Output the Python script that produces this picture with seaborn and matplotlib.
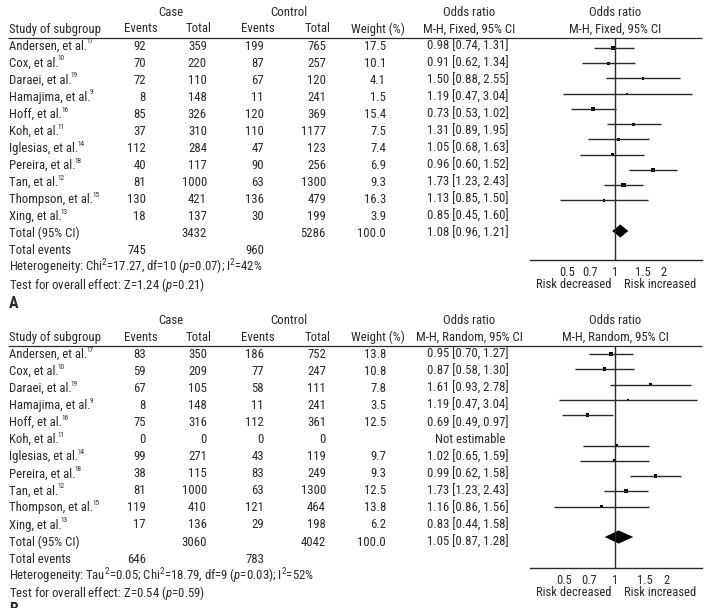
import numpy as np
import pandas as pd
import matplotlib
matplotlib.use("Agg")
from matplotlib import pyplot as plt
from matplotlib.ticker import NullLocator
import seaborn as sns

sns.set_theme(style="white")
plt.rcParams["font.family"] = ["Roboto Condensed", "DejaVu Sans"]
plt.rcParams["mathtext.fontset"] = "custom"
plt.rcParams["mathtext.rm"] = "Roboto Condensed"
plt.rcParams["mathtext.it"] = "Roboto Condensed:italic"
plt.rcParams["mathtext.default"] = "regular"

INK = "#2a2a2a"
FS = 9.2

studies = ["Andersen, et al.", "Cox, et al.", "Daraei, et al.", "Hamajima, et al.",
           "Hoff, et al.", "Koh, et al.", "Iglesias, et al.", "Pereira, et al.",
           "Tan, et al.", "Thompson, et al.", "Xing, et al."]
refs = ["17", "10", "19", "9", "16", "11", "14", "18", "12", "15", "13"]

# panel A - fixed effects
case_ev_a = [92, 70, 72, 8, 85, 37, 112, 40, 81, 130, 18]
case_tot_a = [359, 220, 110, 148, 326, 310, 284, 117, 1000, 421, 137]
ctrl_ev_a = [199, 87, 67, 11, 120, 110, 47, 90, 63, 136, 30]
ctrl_tot_a = [765, 257, 120, 241, 369, 1177, 123, 256, 1300, 479, 199]
weight_a = [17.5, 10.1, 4.1, 1.5, 15.4, 7.5, 7.4, 6.9, 9.3, 16.3, 3.9]
or_a = [0.98, 0.91, 1.50, 1.19, 0.73, 1.31, 1.05, 0.96, 1.73, 1.13, 0.85]
lo_a = [0.74, 0.62, 0.88, 0.47, 0.53, 0.89, 0.68, 0.60, 1.23, 0.85, 0.45]
hi_a = [1.31, 1.34, 2.55, 3.04, 1.02, 1.95, 1.63, 1.52, 2.43, 1.50, 1.60]
total_a = [3432, 5286, 100.0, 1.08, 0.96, 1.21]
events_a = [745, 960]
het_a = "Heterogeneity: Chi$^2$=17.27, df=10 ($\\mathit{p}$=0.07); I$^2$=42%"
test_a = "Test for overall effect: Z=1.24 ($\\mathit{p}$=0.21)"

# panel B - random effects
case_ev_b = [83, 59, 67, 8, 75, 0, 99, 38, 81, 119, 17]
case_tot_b = [350, 209, 105, 148, 316, 0, 271, 115, 1000, 410, 136]
ctrl_ev_b = [186, 77, 58, 11, 112, 0, 43, 83, 63, 121, 29]
ctrl_tot_b = [752, 247, 111, 241, 361, 0, 119, 249, 1300, 464, 198]
weight_b = [13.8, 10.8, 7.8, 3.5, 12.5, np.nan, 9.7, 9.3, 12.5, 13.8, 6.2]
or_b = [0.95, 0.87, 1.61, 1.19, 0.69, np.nan, 1.02, 0.99, 1.73, 1.16, 0.83]
lo_b = [0.70, 0.58, 0.93, 0.47, 0.49, np.nan, 0.65, 0.62, 1.23, 0.86, 0.44]
hi_b = [1.27, 1.30, 2.78, 3.04, 0.97, np.nan, 1.59, 1.58, 2.43, 1.56, 1.58]
total_b = [3060, 4042, 100.0, 1.05, 0.87, 1.28]
events_b = [646, 783]
het_b = "Heterogeneity: Tau$^2$=0.05; Chi$^2$=18.79, df=9 ($\\mathit{p}$=0.03); I$^2$=52%"
test_b = "Test for overall effect: Z=0.54 ($\\mathit{p}$=0.59)"

tick_vals = [0.5, 0.7, 1, 1.5, 2]
tick_labels = ["0.5", "0.7", "1", "1.5", "2"]

W, H = 704, 608
fig = plt.figure(figsize=(W / 100, H / 100), dpi=100)
bg = fig.add_axes([0, 0, 1, 1])
bg.set_xlim(0, W)
bg.set_ylim(H, 0)
bg.axis("off")
renderer = fig.canvas.get_renderer()


def txt(x, y, s, ha="left", size=FS, **kw):
    return bg.text(x, y, s, ha=ha, va="center", fontsize=size, color=INK, **kw)


def draw_panel(off, model, case_ev, case_tot, ctrl_ev, ctrl_tot, weight,
               ors, los, his, total, events, het, test, xlim, row_px, axis_px):
    # header
    txt(171, 12 + off, "Case", "center")
    txt(289, 12 + off, "Control", "center")
    txt(469, 12 + off, "Odds ratio", "center")
    txt(615, 12 + off, "Odds ratio", "center")
    y = 29 + off
    txt(9, y, "Study of subgroup")
    txt(141, y, "Events", "center")
    txt(199, y, "Total", "center")
    txt(258, y, "Events", "center")
    txt(318, y, "Total", "center")
    txt(378, y, "Weight (%)", "center")
    txt(469, y, f"M-H, {model}, 95% CI", "center")
    txt(615, y, f"M-H, {model}, 95% CI", "center")
    bg.hlines(37.5 + off, 8, 702, color=INK, lw=0.9)

    for i, name in enumerate(studies):
        y = 46 + off + 17.05 * i
        t = txt(9, y, name)
        x_end = t.get_window_extent(renderer).x1
        txt(x_end - 1.0, y - 4.2, refs[i], size=5.2)
        txt(146, y, str(case_ev[i]), "right")
        txt(207, y, str(case_tot[i]), "right")
        txt(264, y, str(ctrl_ev[i]), "right")
        txt(326, y, str(ctrl_tot[i]), "right")
        if np.isnan(ors[i]):
            txt(470, y, "Not estimable", "center")
        else:
            txt(386, y, f"{weight[i]:.1f}", "right")
            txt(468, y, f"{ors[i]:.2f} [{los[i]:.2f}, {his[i]:.2f}]", "center")
    y = 46 + off + 17.05 * 11
    txt(9, y, "Total (95% CI)")
    txt(207, y, str(total[0]), "right")
    txt(326, y, str(total[1]), "right")
    txt(386, y, f"{total[2]:.1f}", "right")
    txt(468, y, f"{total[3]:.2f} [{total[4]:.2f}, {total[5]:.2f}]", "center")
    y += 17.05
    txt(9, y, "Total events")
    txt(146, y, str(events[0]), "right")
    txt(264, y, str(events[1]), "right")
    txt(9, y + 17.05, het)
    txt(9, y + 34.1, test)

    # forest plot
    top_px = 38 + off
    x0, x1 = 530, 702
    ax = fig.add_axes([x0 / W, 1 - axis_px / H, (x1 - x0) / W, (axis_px - top_px) / H])
    ax.set_facecolor("none")
    ax.set_xscale("log")
    ax.set_xlim(*xlim)
    step = 15.25
    ax.set_ylim((axis_px - row_px) / step, (top_px - row_px) / step)

    df = pd.DataFrame({"or": ors, "lo": los, "hi": his, "w": weight,
                       "row": np.arange(len(ors))}).dropna()
    ax.hlines(df["row"], df["lo"], df["hi"], color=INK, lw=1.0)
    sns.scatterplot(data=df, x="or", y="row", size="w", sizes=(0, 12),
                    size_norm=(0, 20), marker="s", color="black",
                    linewidth=0, legend=False, ax=ax)
    d = 12
    h = 0.43
    ax.fill([total[4], total[3], total[5], total[3]], [d, d - h, d, d + h],
            color="black", lw=0)
    ax.axvline(1, color=INK, lw=1.0)

    sns.despine(ax=ax, left=True)
    ax.spines["bottom"].set_color(INK)
    ax.spines["bottom"].set_linewidth(1.0)
    ax.set_yticks([])
    ax.set_xticks(tick_vals)
    ax.set_xticklabels(tick_labels)
    ax.xaxis.set_minor_locator(NullLocator())
    ax.tick_params(axis="x", direction="inout", length=7, width=1, pad=0.5,
                   colors=INK, labelsize=9)
    ax.set_xlabel("")
    ax.set_ylabel("")
    ax.grid(False)

    txt(574, axis_px + 24.5, "Risk decreased", "center", size=9)
    txt(660, axis_px + 24.5, "Risk increased", "center", size=9)


draw_panel(0, "Fixed", case_ev_a, case_tot_a, ctrl_ev_a, ctrl_tot_a, weight_a,
           or_a, lo_a, hi_a, total_a, events_a, het_a, test_a,
           (0.293, 3.51), 48, 260)
draw_panel(308.5, "Random", case_ev_b, case_tot_b, ctrl_ev_b, ctrl_tot_b, weight_b,
           or_b, lo_b, hi_b, total_b, events_b, het_b, test_b,
           (0.317, 3.24), 354, 568)

bg.text(9, 304, "A", ha="left", va="center", fontsize=11.5, fontweight="bold", color=INK)
bg.text(9, 602, "B", ha="left", va="top", fontsize=11.5, fontweight="bold", color=INK)

fig.savefig("out.png", dpi=100)
plt.close(fig)
